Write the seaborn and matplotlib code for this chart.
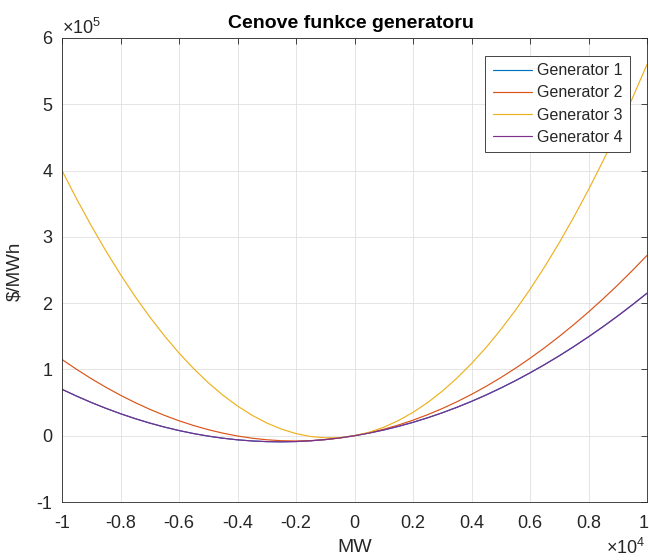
import numpy as np
import pandas as pd
import matplotlib
matplotlib.use("Agg")
import matplotlib.pyplot as plt
import matplotlib.transforms as mtransforms
import seaborn as sns

# ---- data ----
mw = [-10000, -9500, -9000, -8500, -8000, -7500, -7000, -6500, -6000, -5500, -5000,
      -4500, -4000, -3500, -3000, -2500, -2000, -1500, -1000, -500, 0,
      500, 1000, 1500, 2000, 2500, 3000, 3500, 4000, 4500, 5000,
      5500, 6000, 6500, 7000, 7500, 8000, 8500, 9000, 9500, 10000]
gen1 = [70000, 59731, 50175, 41331, 33200, 25781, 19075, 13081, 7800, 3231, -625,
        -3769, -6200, -7919, -8925, -9219, -8800, -7669, -5825, -3269, 0,
        3981, 8675, 14081, 20200, 27031, 34575, 42831, 51800, 61481, 71875,
        82981, 94800, 107331, 120575, 134531, 149200, 164581, 180675, 197481, 215000]
gen2 = [115000, 100059, 86085, 73079, 61040, 49969, 39865, 30729, 22560, 15359, 9125,
        3859, -440, -3771, -6135, -7531, -7960, -7421, -5915, -3441, 0,
        4409, 9785, 16129, 23440, 31719, 40965, 51179, 62360, 74509, 87625,
        101709, 116760, 132779, 149765, 167719, 186640, 206529, 227385, 249209, 272000]
gen3 = [400000, 357200, 316800, 278800, 243200, 210000, 179200, 150800, 124800, 101200, 80000,
        61200, 44800, 30800, 19200, 10000, 3200, -1200, -3200, -2800, 0,
        5200, 12800, 22800, 35200, 50000, 67200, 86800, 108800, 133200, 160000,
        189200, 220800, 254800, 291200, 330000, 371200, 414800, 460800, 509200, 560000]
gen4 = [70000, 59731, 50175, 41331, 33200, 25781, 19075, 13081, 7800, 3231, -625,
        -3769, -6200, -7919, -8925, -9219, -8800, -7669, -5825, -3269, 0,
        3981, 8675, 14081, 20200, 27031, 34575, 42831, 51800, 61481, 71875,
        82981, 94800, 107331, 120575, 134531, 149200, 164581, 180675, 197481, 215000]
names = ["Generator 1", "Generator 2", "Generator 3", "Generator 4"]
xticks = [-10000, -8000, -6000, -4000, -2000, 0, 2000, 4000, 6000, 8000, 10000]
xticklabels = ["-1", "-0.8", "-0.6", "-0.4", "-0.2", "0", "0.2", "0.4", "0.6", "0.8", "1"]
yticks = [-100000, 0, 100000, 200000, 300000, 400000, 500000, 600000]
yticklabels = ["-1", "0", "1", "2", "3", "4", "5", "6"]

colors = [(0, 0.447, 0.741), (0.85, 0.325, 0.098), (0.929, 0.694, 0.125), (0.494, 0.184, 0.556)]

df = pd.concat([pd.DataFrame({"MW": mw, "cost": s, "Generator": n})
                for s, n in zip([gen1, gen2, gen3, gen4], names)], ignore_index=True)

sns.set_style("white")
plt.rcParams['font.family'] = ['Liberation Sans', 'DejaVu Sans']
plt.rcParams['mathtext.fontset'] = 'custom'
plt.rcParams['mathtext.rm'] = 'Liberation Sans'
plt.rcParams['mathtext.it'] = 'Liberation Sans'

W, H = 649, 560
fig = plt.figure(figsize=(W / 100, H / 100), dpi=100)
ax = fig.add_axes([62 / W, 1 - 502 / H, (647 - 62) / W, (502 - 38) / H])

sns.lineplot(data=df, x="MW", y="cost", hue="Generator", palette=colors,
             linewidth=0.85, ax=ax, legend=True)

dark = (0.15, 0.15, 0.15)
ax.set_xlim(-10000, 10000)
ax.set_ylim(-100000, 600000)
ax.set_xticks(xticks)
ax.set_xticklabels(xticklabels)
ax.set_yticks(yticks)
ax.set_yticklabels(yticklabels)
ax.grid(True, color=(0.88, 0.88, 0.88), linewidth=0.6)
ax.set_axisbelow(True)
for sp in ax.spines.values():
    sp.set_visible(True)
    sp.set_color(dark)
    sp.set_linewidth(0.6)
ax.tick_params(direction='in', length=4, width=0.6, colors=dark, labelsize=13,
               top=True, right=True, labelcolor=dark)
ax.tick_params(axis='x', pad=9)
ax.tick_params(axis='y', pad=7)

# nudge the last x tick label slightly left so it stays inside the canvas
last = ax.get_xticklabels()[-1]
last.set_transform(last.get_transform() +
                   mtransforms.ScaledTranslation(-3 / 100, 0, fig.dpi_scale_trans))

ax.set_xlabel("")
ax.set_ylabel("")
fig.text(355 / W, 1 - 548 / H, "MW", fontsize=14, color=dark, ha='center', va='center')
fig.text(15 / W, 1 - 271 / H, "\\$/MWh", fontsize=13.5, color=dark, ha='center',
         va='center', rotation=90)
fig.text(351 / W, 1 - 24 / H, "Cenove funkce generatoru", fontsize=14,
         fontweight='bold', ha='center', va='center', color='black')

fig.text(62 / W, 1 - 38 / H, r"$\times10^{5}$", fontsize=13,
         color=dark, ha='left', va='bottom')
fig.text(645 / W, 1 - 558 / H, r"$\times10^{4}$", fontsize=13,
         color=dark, ha='right', va='bottom')

leg = ax.legend(loc='upper right', bbox_to_anchor=(0.971, 0.961), borderaxespad=0,
                fontsize=11.5, frameon=True, fancybox=False, framealpha=1,
                edgecolor=dark, handlelength=2.5, handletextpad=0.3,
                labelspacing=0.45, borderpad=0.45, title=None)
leg.get_frame().set_linewidth(0.6)

fig.savefig("out.png", dpi=100)
